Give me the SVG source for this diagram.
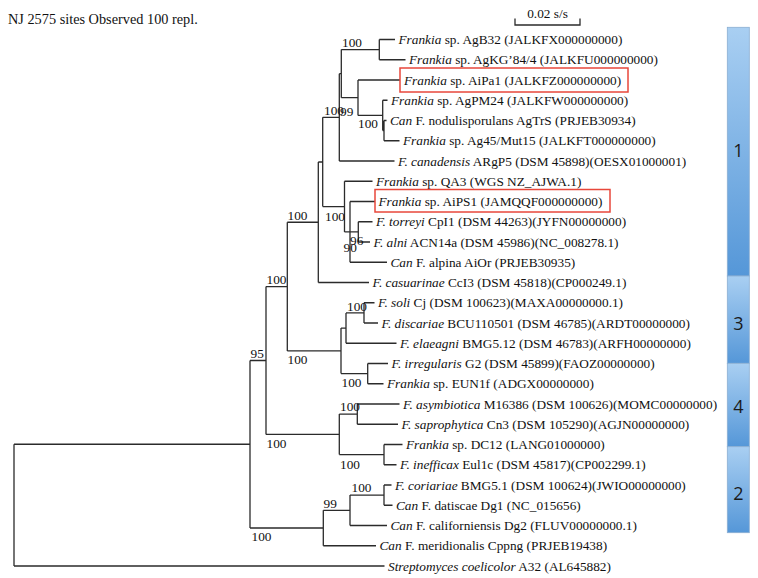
<svg xmlns="http://www.w3.org/2000/svg" width="758" height="578" viewBox="0 0 758 578">
<style>
text{font-family:"Liberation Serif","Times New Roman",serif;font-size:13.3px;fill:#111}
.i{font-style:italic}
.br{fill:none;stroke:#2b2b2b;stroke-width:1.3}
.box{fill:none;stroke:#e8473b;stroke-width:1.5}
.seg{fill:url(#g);stroke:#8aaed2;stroke-width:0.8}
.num{font-family:"Open Sans","Liberation Sans",sans-serif;font-size:18px;fill:#1a1a1a;text-anchor:middle}
</style>
<defs>
<linearGradient id="g" x1="0" y1="0" x2="0" y2="1">
<stop offset="0" stop-color="#a9cff2"/>
<stop offset="1" stop-color="#5597d8"/>
</linearGradient>
</defs>
<rect width="758" height="578" fill="#fff"/>
<text x="8" y="24" style="font-size:14.3px">NJ 2575 sites Observed 100 repl.</text>
<g id="scale">
<path class="br" d="M515,18.5V25H580V18.5"/>
<text x="547.5" y="18" text-anchor="middle">0.02 s/s</text>
</g>
<g id="connectors">
<path class="br" d="M14,444.25V566M14,444.25H250M14,566H384.5
M250,360.5V528M250,360.5H266M250,528H323.3
M266,286.6V434.4M266,286.6H287.3M266,434.4H339.3
M287.3,222.25V350.9M287.3,222.25H318.3M287.3,350.9H341
M318.3,162V282.5M318.3,162H322.7M318.3,282.5H369
M322.7,117.3V206.6M322.7,117.3H339.3M322.7,206.6H344.5
M339.3,73.7V161M339.3,73.7H341.3M339.3,161H394.5
M341.3,49.6V97.7M341.3,49.6H379.3M341.3,97.7H358
M379.3,39.5V59.75M379.3,39.5H395M379.3,59.75H405.5
M358,80V115.4M358,80H400M358,115.4H382.7
M382.7,100.25V130.6M382.7,100.25H387.5M382.7,130.6H384
M384,120.5V140.75M384,120.5H386.5M384,140.75H399.5
M344.5,181.25V231.9M344.5,181.25H372.5M344.5,231.9H350
M350,201.5V262.25M350,201.5H375M350,231.9H358.3M350,262.25H387
M358.3,221.75V242M358.3,221.75H372.5M358.3,242H370
M341,328.1V373.6M341,328.1H346M341,373.6H367.7
M346,312.9V343.25M346,312.9H364M346,343.25H396.5
M364,302.75V323M364,302.75H374.5M364,323H378
M367.7,363.5V383.75M367.7,363.5H388M367.7,383.75H383.5
M339.3,414.1V454.6M339.3,414.1H357.3M339.3,454.6H384
M357.3,404V424.25M357.3,404H399.5M357.3,424.25H398
M384,444.5V464.75M384,444.5H402.5M384,464.75H396.5
M323.3,510.3V545.75M323.3,510.3H350M323.3,545.75H376
M350,495.1V525.5M350,495.1H384M350,525.5H387
M384,485V505.25M384,485H391.5M384,505.25H392.5"/>
</g>
<g id="support">
<text x="342" y="46.5">100</text>
<text x="324" y="114.5">100</text>
<text x="340" y="115.5">99</text>
<text x="358" y="128">100</text>
<text x="325" y="221">100</text>
<text x="350" y="245">96</text>
<text x="343.5" y="252">90</text>
<text x="287.5" y="219.5">100</text>
<text x="266.5" y="284">100</text>
<text x="287.5" y="363.5">100</text>
<text x="250.5" y="357.5">95</text>
<text x="266.5" y="448">100</text>
<text x="251.5" y="541">100</text>
<text x="347" y="310.5">100</text>
<text x="341.5" y="387">100</text>
<text x="340" y="411">100</text>
<text x="340" y="468.5">100</text>
<text x="323.5" y="507.5">99</text>
<text x="351.5" y="492">100</text>
</g>
<g id="leaf-AgB32"><text x="398.5" y="44"><tspan class="i">Frankia</tspan> sp. AgB32 (JALKFX000000000)</text></g>
<g id="leaf-AgKG"><text x="409" y="64.25"><tspan class="i">Frankia</tspan> sp. AgKG’84/4 (JALKFU000000000)</text></g>
<g id="leaf-AiPa1"><rect class="box" x="400" y="68" width="228" height="24"/><text x="404" y="84.5"><tspan class="i">Frankia</tspan> sp. AiPa1 (JALKFZ000000000)</text></g>
<g id="leaf-AgPM24"><text x="391" y="104.75"><tspan class="i">Frankia</tspan> sp. AgPM24 (JALKFW000000000)</text></g>
<g id="leaf-AgTrS"><text x="390" y="125"><tspan class="i">Can</tspan> F. nodulisporulans AgTrS (PRJEB30934)</text></g>
<g id="leaf-Ag45"><text x="403" y="145.25"><tspan class="i">Frankia</tspan> sp. Ag45/Mut15 (JALKFT000000000)</text></g>
<g id="leaf-ARgP5"><text x="398" y="165.5"><tspan class="i">F. canadensis</tspan> ARgP5 (DSM 45898)(OESX01000001)</text></g>
<g id="leaf-QA3"><text x="376" y="185.75"><tspan class="i">Frankia</tspan> sp. QA3 (WGS NZ_AJWA.1)</text></g>
<g id="leaf-AiPS1"><rect class="box" x="375" y="189.5" width="235" height="22.5"/><text x="378.5" y="206"><tspan class="i">Frankia</tspan> sp. AiPS1 (JAMQQF000000000)</text></g>
<g id="leaf-CpI1"><text x="376" y="226.25"><tspan class="i">F. torreyi</tspan> CpI1 (DSM 44263)(JYFN00000000)</text></g>
<g id="leaf-ACN14a"><text x="373.5" y="246.5"><tspan class="i">F. alni</tspan> ACN14a (DSM 45986)(NC_008278.1)</text></g>
<g id="leaf-AiOr"><text x="390.5" y="266.75"><tspan class="i">Can</tspan> F. alpina AiOr (PRJEB30935)</text></g>
<g id="leaf-CcI3"><text x="372.5" y="287"><tspan class="i">F. casuarinae</tspan> CcI3 (DSM 45818)(CP000249.1)</text></g>
<g id="leaf-Cj"><text x="378" y="307.25"><tspan class="i">F. soli</tspan> Cj (DSM 100623)(MAXA00000000.1)</text></g>
<g id="leaf-BCU110501"><text x="381.5" y="327.5"><tspan class="i">F. discariae</tspan> BCU110501 (DSM 46785)(ARDT00000000)</text></g>
<g id="leaf-BMG5.12"><text x="400" y="347.75"><tspan class="i">F. elaeagni</tspan> BMG5.12 (DSM 46783)(ARFH00000000)</text></g>
<g id="leaf-G2"><text x="391.5" y="368"><tspan class="i">F. irregularis</tspan> G2 (DSM 45899)(FAOZ00000000)</text></g>
<g id="leaf-EUN1f"><text x="387" y="388.25"><tspan class="i">Frankia</tspan> sp. EUN1f (ADGX00000000)</text></g>
<g id="leaf-M16386"><text x="403" y="408.5"><tspan class="i">F. asymbiotica</tspan> M16386 (DSM 100626)(MOMC00000000)</text></g>
<g id="leaf-Cn3"><text x="401.5" y="428.75"><tspan class="i">F. saprophytica</tspan> Cn3 (DSM 105290)(AGJN00000000)</text></g>
<g id="leaf-DC12"><text x="406" y="449"><tspan class="i">Frankia</tspan> sp. DC12 (LANG01000000)</text></g>
<g id="leaf-Eul1c"><text x="400" y="469.25"><tspan class="i">F. inefficax</tspan> Eul1c (DSM 45817)(CP002299.1)</text></g>
<g id="leaf-BMG5.1"><text x="395" y="489.5"><tspan class="i">F. coriariae</tspan> BMG5.1 (DSM 100624)(JWIO00000000)</text></g>
<g id="leaf-Dg1"><text x="396" y="509.75"><tspan class="i">Can</tspan> F. datiscae Dg1 (NC_015656)</text></g>
<g id="leaf-Dg2"><text x="390.5" y="530"><tspan class="i">Can</tspan> F. californiensis Dg2 (FLUV00000000.1)</text></g>
<g id="leaf-Cppng"><text x="379.5" y="550.25"><tspan class="i">Can</tspan> F. meridionalis Cppng (PRJEB19438)</text></g>
<g id="leaf-A32"><text x="388" y="570.5"><tspan class="i">Streptomyces coelicolor</tspan> A32 (AL645882)</text></g>
<g id="group-1"><rect class="seg" x="727.3" y="27.3" width="22" height="248.7"/><text class="num" x="738.3" y="157">1</text></g>
<g id="group-3"><rect class="seg" x="727.3" y="276" width="22" height="87.3"/><text class="num" x="738.3" y="330">3</text></g>
<g id="group-4"><rect class="seg" x="727.3" y="363.3" width="22" height="83.4"/><text class="num" x="738.3" y="413">4</text></g>
<g id="group-2"><rect class="seg" x="727.3" y="446.7" width="22" height="86"/><text class="num" x="738.3" y="500">2</text></g>
</svg>
